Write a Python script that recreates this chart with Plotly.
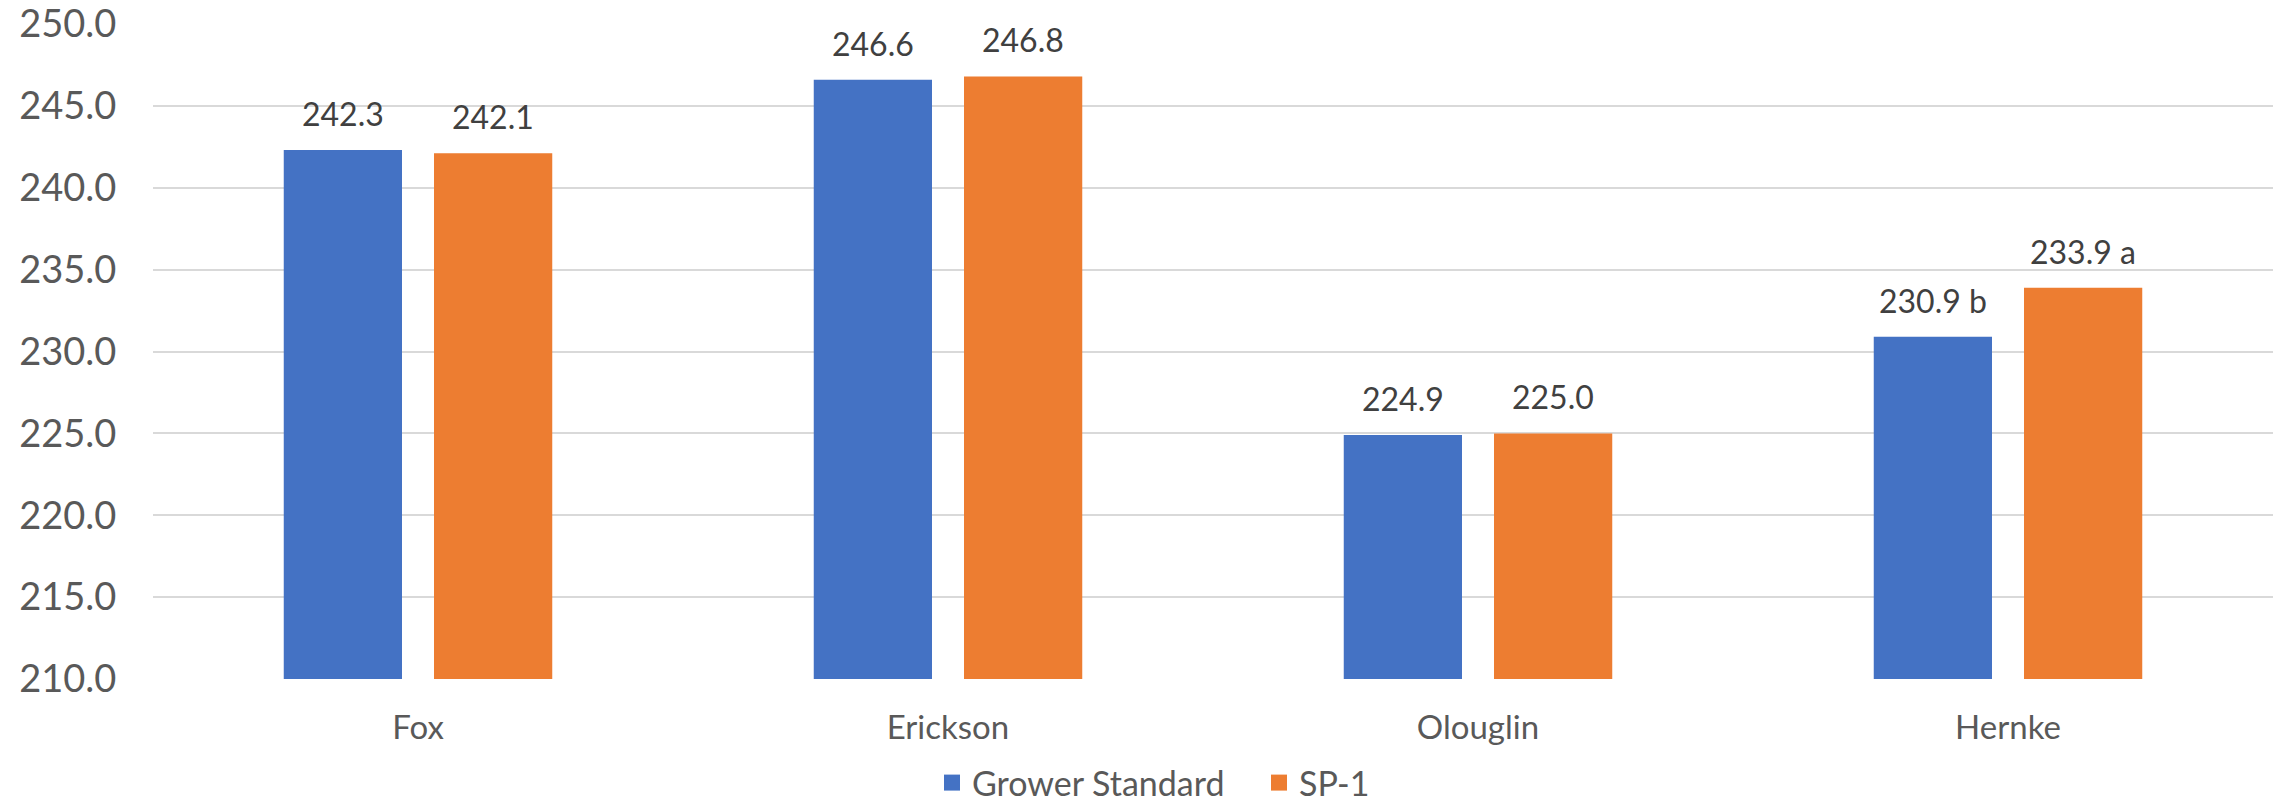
import plotly.graph_objects as go

# Yield comparison by grower
categories = ["Fox", "Erickson", "Olouglin", "Hernke"]
grower_standard = [242.3, 246.6, 224.9, 230.9]
sp1 = [242.1, 246.8, 225.0, 233.9]
grower_letters = ["", "", "", " b"]
sp1_letters = ["", "", "", " a"]
y_ticks = [210, 215, 220, 225, 230, 235, 240, 245, 250]

BLUE = "#4472C4"
ORANGE = "#ED7D31"
FONT = "Lato, Calibri, Arial, sans-serif"

fig = go.Figure()

series = [
    ("Grower Standard", grower_standard, grower_letters, BLUE, -75),
    ("SP-1", sp1, sp1_letters, ORANGE, 75),
]

for name, vals, letters, color, shift in series:
    fig.add_trace(go.Bar(
        x=categories, y=vals, name=name,
        marker=dict(color=color, line=dict(width=0)),
        showlegend=False,
    ))
    # legend swatch
    fig.add_trace(go.Scatter(
        x=[None], y=[None], mode="markers", name=name,
        marker=dict(symbol="square", size=21, color=color),
    ))
    for cat, v, lt in zip(categories, vals, letters):
        fig.add_annotation(
            x=cat, y=v, text=f"{v:.1f}{lt}", showarrow=False,
            xshift=shift, yshift=15, yanchor="bottom",
            font=dict(family=FONT, size=32, color="#404040"),
        )

fig.update_layout(
    width=2283, height=812,
    margin=dict(l=153, r=10, t=24, b=133),
    paper_bgcolor="white", plot_bgcolor="white",
    barmode="group", bargap=0.433, bargroupgap=0.213,
    font=dict(family=FONT, color="#595959"),
    legend=dict(
        orientation="h", xref="container", yref="container",
        x=932 / 2283, xanchor="left", y=-0.008, yanchor="bottom",
        font=dict(family=FONT, size=34, color="#595959"),
        itemwidth=30, entrywidth=282, entrywidthmode="pixels",
        borderwidth=0, bgcolor="rgba(0,0,0,0)",
    ),
)

fig.update_xaxes(
    showgrid=False, showline=False, zeroline=False, automargin=False,
    ticks="outside", ticklen=19, tickcolor="rgba(0,0,0,0)",
    tickfont=dict(family=FONT, size=33, color="#595959"),
)
fig.update_yaxes(
    range=[210, 250], tickvals=y_ticks, tickformat=".1f",
    showgrid=True, gridcolor="#D9D9D9", gridwidth=2,
    showline=False, zeroline=False, automargin=False,
    ticklabeloverflow="allow",
    ticks="outside", ticklen=28, tickcolor="rgba(0,0,0,0)",
    tickfont=dict(family=FONT, size=38, color="#595959"),
)

fig.write_html("out.html")
